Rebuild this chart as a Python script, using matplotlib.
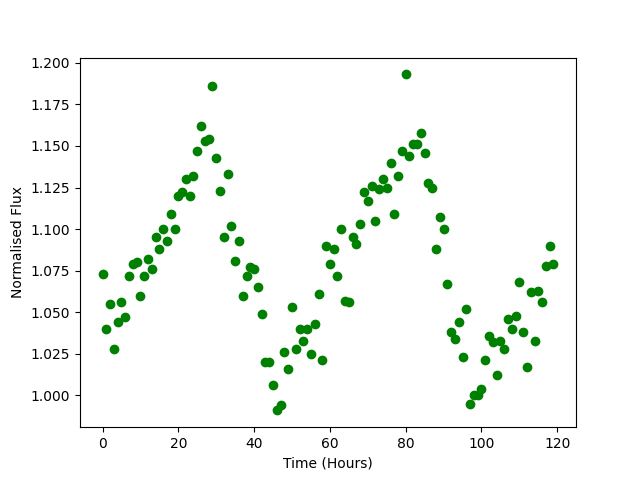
import numpy as np
import matplotlib
matplotlib.use("Agg")
import matplotlib.pyplot as plt

# hourly flux readings
time_hours = np.arange(120)
flux = [1.073, 1.040, 1.055, 1.028, 1.044, 1.056, 1.047, 1.072, 1.079, 1.080,
        1.060, 1.072, 1.082, 1.076, 1.095, 1.088, 1.100, 1.093, 1.109, 1.100,
        1.120, 1.122, 1.130, 1.120, 1.132, 1.147, 1.162, 1.153, 1.154, 1.186,
        1.143, 1.123, 1.095, 1.133, 1.102, 1.081, 1.093, 1.060, 1.072, 1.077,
        1.076, 1.065, 1.049, 1.020, 1.020, 1.006, 0.991, 0.994, 1.026, 1.016,
        1.053, 1.028, 1.040, 1.033, 1.040, 1.025, 1.043, 1.061, 1.021, 1.090,
        1.079, 1.088, 1.072, 1.100, 1.057, 1.056, 1.095, 1.091, 1.103, 1.122,
        1.117, 1.126, 1.105, 1.124, 1.130, 1.125, 1.140, 1.109, 1.132, 1.147,
        1.193, 1.144, 1.151, 1.151, 1.158, 1.146, 1.128, 1.125, 1.088, 1.107,
        1.100, 1.067, 1.038, 1.034, 1.044, 1.023, 1.052, 0.995, 1.000, 1.000,
        1.004, 1.021, 1.036, 1.032, 1.012, 1.033, 1.028, 1.046, 1.040, 1.048,
        1.068, 1.038, 1.017, 1.062, 1.033, 1.063, 1.056, 1.078, 1.090, 1.079]

fig = plt.figure(figsize=(6.4, 4.8), dpi=100)
plt.plot(time_hours, flux, 'go')
plt.xlabel("Time (Hours)")
plt.ylabel("Normalised Flux")
plt.savefig("out.png")
